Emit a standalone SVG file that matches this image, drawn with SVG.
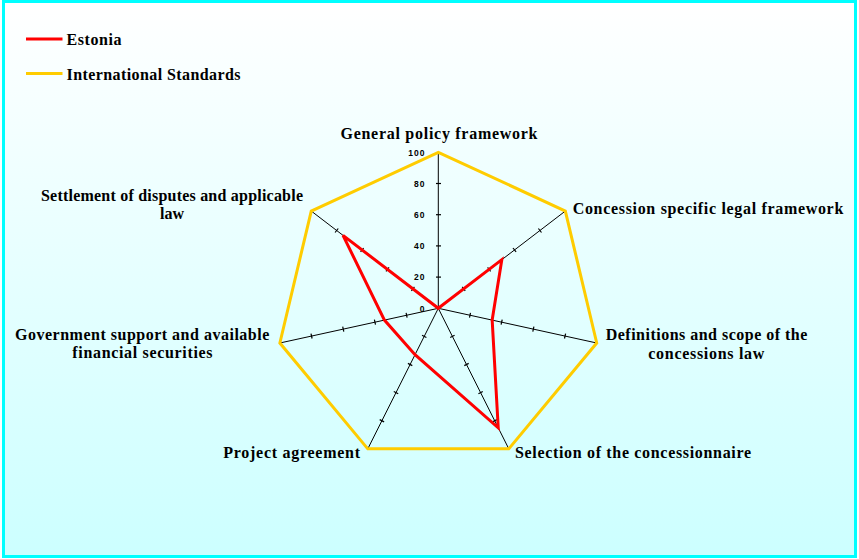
<svg xmlns="http://www.w3.org/2000/svg" width="859" height="559" viewBox="0 0 859 559">
  <defs>
    <linearGradient id="bg" x1="0" y1="0" x2="0" y2="1">
      <stop offset="0" stop-color="#FFFFFF"/>
      <stop offset="1" stop-color="#CCFFFF"/>
    </linearGradient>
    <style>
      .lbl { font-family: "Liberation Serif", "Times New Roman", serif; font-weight: bold; font-size: 16px; fill: #000; }
      .num { font-family: "Liberation Sans", Arial, sans-serif; font-weight: bold; font-size: 8.5px; fill: #000; letter-spacing: 1px; text-anchor: end; }
      .axis { stroke: #000; stroke-width: 1; fill: none; }
      .tick { stroke: #000; stroke-width: 1.2; }
      .intl { stroke: #FFCC00; stroke-width: 3; fill: none; stroke-linejoin: miter; }
      .est { stroke: #FF0000; stroke-width: 3; fill: none; stroke-linejoin: miter; }
    </style>
  </defs>

  <rect x="3.5" y="1.5" width="852" height="555" fill="url(#bg)" stroke="#00FFFF" stroke-width="3"/>

  <g id="legend">
    <line x1="26" y1="39" x2="62.5" y2="39" stroke="#FF0000" stroke-width="3"/>
    <text class="lbl" x="66.5" y="45" textLength="55" lengthAdjust="spacing">Estonia</text>
    <line x1="26" y1="73.5" x2="62.5" y2="73.5" stroke="#FFCC00" stroke-width="3"/>
    <text class="lbl" x="66.5" y="80" textLength="174" lengthAdjust="spacing">International Standards</text>
  </g>

  <g id="connectors">
    <g id="axes">
      <line class="axis" x1="438.3" y1="308.3" x2="438.3" y2="152.3"/>
      <line class="axis" x1="438.3" y1="308.3" x2="565.35" y2="211.04"/>
      <line class="axis" x1="438.3" y1="308.3" x2="596.73" y2="343.01"/>
      <line class="axis" x1="438.3" y1="308.3" x2="508.81" y2="448.85"/>
      <line class="axis" x1="438.3" y1="308.3" x2="367.79" y2="448.85"/>
      <line class="axis" x1="438.3" y1="308.3" x2="279.87" y2="343.01"/>
      <line class="axis" x1="438.3" y1="308.3" x2="311.25" y2="211.04"/>
    </g>
    <g id="ticks">
      <line class="tick" x1="436" y1="277.1" x2="441" y2="277.1"/>
      <line class="tick" x1="436" y1="245.9" x2="441" y2="245.9"/>
      <line class="tick" x1="436" y1="214.7" x2="441" y2="214.7"/>
      <line class="tick" x1="436" y1="183.5" x2="441" y2="183.5"/>
      <line class="tick" x1="462.2" y1="286.9" x2="465.2" y2="290.8"/>
      <line class="tick" x1="487.6" y1="267.4" x2="490.6" y2="271.4"/>
      <line class="tick" x1="513.0" y1="248.0" x2="516.1" y2="251.9"/>
      <line class="tick" x1="538.4" y1="228.5" x2="541.5" y2="232.5"/>
      <line class="tick" x1="470.5" y1="312.8" x2="469.5" y2="317.7"/>
      <line class="tick" x1="502.2" y1="319.7" x2="501.1" y2="324.6"/>
      <line class="tick" x1="533.9" y1="326.7" x2="532.8" y2="331.6"/>
      <line class="tick" x1="565.6" y1="333.6" x2="564.5" y2="338.5"/>
      <line class="tick" x1="450.2" y1="337.5" x2="454.6" y2="335.3"/>
      <line class="tick" x1="464.3" y1="365.6" x2="468.7" y2="363.4"/>
      <line class="tick" x1="478.4" y1="393.8" x2="482.8" y2="391.5"/>
      <line class="tick" x1="492.5" y1="421.9" x2="496.9" y2="419.6"/>
      <line class="tick" x1="422.0" y1="335.3" x2="426.4" y2="337.5"/>
      <line class="tick" x1="407.9" y1="363.4" x2="412.3" y2="365.6"/>
      <line class="tick" x1="393.8" y1="391.5" x2="398.2" y2="393.8"/>
      <line class="tick" x1="379.7" y1="419.6" x2="384.1" y2="421.9"/>
      <line class="tick" x1="406.1" y1="312.8" x2="407.1" y2="317.7"/>
      <line class="tick" x1="374.4" y1="319.7" x2="375.5" y2="324.6"/>
      <line class="tick" x1="342.7" y1="326.7" x2="343.8" y2="331.6"/>
      <line class="tick" x1="311.0" y1="333.6" x2="312.1" y2="338.5"/>
      <line class="tick" x1="414.4" y1="286.9" x2="411.4" y2="290.8"/>
      <line class="tick" x1="389.0" y1="267.4" x2="386.0" y2="271.4"/>
      <line class="tick" x1="363.6" y1="248.0" x2="360.6" y2="251.9"/>
      <line class="tick" x1="338.2" y1="228.5" x2="335.1" y2="232.5"/>
    </g>
    <g id="scale">
      <text class="num" x="425.5" y="155.5">100</text>
      <text class="num" x="425.5" y="186.7">80</text>
      <text class="num" x="425.5" y="217.9">60</text>
      <text class="num" x="425.5" y="249.1">40</text>
      <text class="num" x="425.5" y="280.3">20</text>
      <text class="num" x="425.5" y="311.5">0</text>
    </g>
    <polygon id="series-international" class="intl" points="438.3,152.3 565.35,211.04 596.73,343.01 508.81,448.85 367.79,448.85 279.87,343.01 311.25,211.04"/>
    <polygon id="series-estonia" class="est" points="438.3,308.3 501.82,259.67 492.17,320.1 498.23,427.77 415.03,354.68 384.43,320.1 343.01,235.35"/>
  </g>

  <g id="node-general">
    <text class="lbl" x="439" y="139" text-anchor="middle" textLength="197" lengthAdjust="spacing">General policy framework</text>
  </g>
  <g id="node-concession">
    <text class="lbl" x="572.7" y="214" textLength="270.6" lengthAdjust="spacing">Concession specific legal framework</text>
  </g>
  <g id="node-definitions">
    <text class="lbl" x="605.7" y="340" textLength="201.6" lengthAdjust="spacing">Definitions and scope of the</text>
    <text class="lbl" x="648.3" y="359" textLength="116" lengthAdjust="spacing">concessions law</text>
  </g>
  <g id="node-selection">
    <text class="lbl" x="515" y="457.5" textLength="236" lengthAdjust="spacing">Selection of the concessionnaire</text>
  </g>
  <g id="node-project">
    <text class="lbl" x="223.3" y="457.5" textLength="136.7" lengthAdjust="spacing">Project agreement</text>
  </g>
  <g id="node-government">
    <text class="lbl" x="15" y="340" textLength="254.3" lengthAdjust="spacing">Government support and available</text>
    <text class="lbl" x="72.3" y="357.7" textLength="140.3" lengthAdjust="spacing">financial securities</text>
  </g>
  <g id="node-settlement">
    <text class="lbl" x="41" y="201" textLength="262" lengthAdjust="spacing">Settlement of disputes and applicable</text>
    <text class="lbl" x="172" y="219" text-anchor="middle">law</text>
  </g>
</svg>
